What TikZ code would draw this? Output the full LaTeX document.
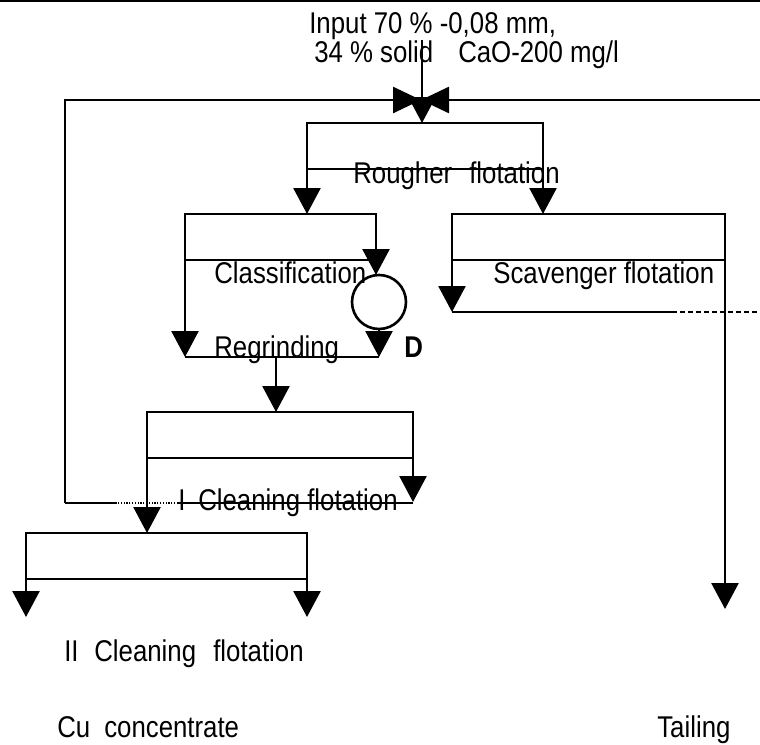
\documentclass[tikz,border=0pt]{standalone}
\usepackage{fontspec}
\setmainfont{Liberation Sans}[FakeStretch=0.86]
\usetikzlibrary{arrows.meta}
\begin{document}
\begin{tikzpicture}[x=1pt,y=-1pt,
  line width=2.6pt,
  cell/.style={draw, rectangle, inner sep=0pt, outer sep=0pt, anchor=north west, minimum height=46pt},
  flow/.style={-{Triangle[length=26pt,width=27pt]}},
  side/.style={-{Triangle[length=28pt,width=26pt]}},
  lbl/.style={inner sep=0pt, anchor=base west, font=\fontsize{30}{34}\selectfont},
  dotline/.style={line width=1.2pt, dash pattern=on 1.2pt off 1.6pt},
  dashline/.style={line width=1.2pt, dash pattern=on 5pt off 3pt}]
\useasboundingbox (0,0) rectangle (760,744);
% top border
\draw (0,1) -- (760,1);
% texts
\node[lbl] (in1) at (308,33) {Input 70 \% -0,08 mm,};
\node[lbl] (in2) at (313,62) {\makebox[144pt][l]{34 \% solid}CaO-200 mg/l};
\node[lbl] (trough) at (352,183) {\makebox[116pt][l]{Rougher}flotation};
\node[lbl] (tclas) at (213,283) {Classification};
\node[lbl] (tscav) at (492,283) {Scavenger flotation};
\node[lbl] (tregr) at (213,357) {Regrinding};
\node[lbl,font=\fontsize{30}{34}\selectfont\bfseries] (td) at (403,357) {D};
\node[lbl] (tcl1) at (177,510) {\makebox[20pt][l]{I}Cleaning flotation};
\node[lbl] (tcl2) at (63,661) {\makebox[30pt][l]{II}\makebox[119pt][l]{Cleaning}flotation};
\node[lbl] (tcu) at (56,737) {\makebox[47pt][l]{Cu}concentrate};
\node[lbl] (ttail) at (656,737) {Tailing};
% boxes
\node[cell, minimum width=236pt] (rough) at (307,123) {};
\node[cell, minimum width=191pt] (clas) at (185,214) {};
\node[cell, minimum width=273pt] (scav) at (452,214) {};
\node[cell, minimum width=266pt] (clean1) at (147,412) {};
\node[cell, minimum width=281pt] (clean2) at (26,533) {};
\node[draw, circle, inner sep=0pt, outer sep=0pt, minimum size=54pt] (hydro) at (379,302) {};
% coordinates
\coordinate (feed) at (422,40);
\coordinate (junc) at (421,100);
\coordinate (lc) at (65,100);
\coordinate (lb) at (65,503);
\coordinate (rc) at (760,100);
\coordinate (rb) at (760,312);
\coordinate (regb) at (276,357);
% feed
\draw[flow] (feed) -- (feed |- rough.north);
% recycle arrows into junction
\draw[side] (lb) -- (lc) -- (junc);
\draw[side] (rc) -- (junc);
% rougher outputs
\draw[flow] (rough.south west) -- (rough.south west |- clas.north);
\draw[flow] (rough.south east) -- (rough.south east |- scav.north);
% classification / regrinding
\draw[flow] (clas.south west) -- (185,357);
\draw[flow] (clas.north east) -- (hydro.north -| clas.north east);
\draw[flow] (hydro.south) -- (379,357);
\draw (185,357) -- (379,357);
\draw[flow] (regb) -- (regb |- clean1.north);
% scavenger
\draw[flow] (scav.south west) -- (452,312);
\draw (452,312) -- (672,312);
\draw[dashline] (672,312) -- (rb);
\draw[flow] (scav.south east) -- (725,609);
% I cleaning
\draw[flow] (clean1.south east) -- (413,502);
\draw (413,503) -- (178,503);
\draw[dotline] (178,503) -- (117,503);
\draw (117,503) -- (lb);
\draw[flow] (clean1.south west) -- (clean1.south west |- clean2.north);
% II cleaning
\draw[flow] (clean2.south west) -- (26,617);
\draw[flow] (clean2.south east) -- (307,617);
\end{tikzpicture}
\end{document}
